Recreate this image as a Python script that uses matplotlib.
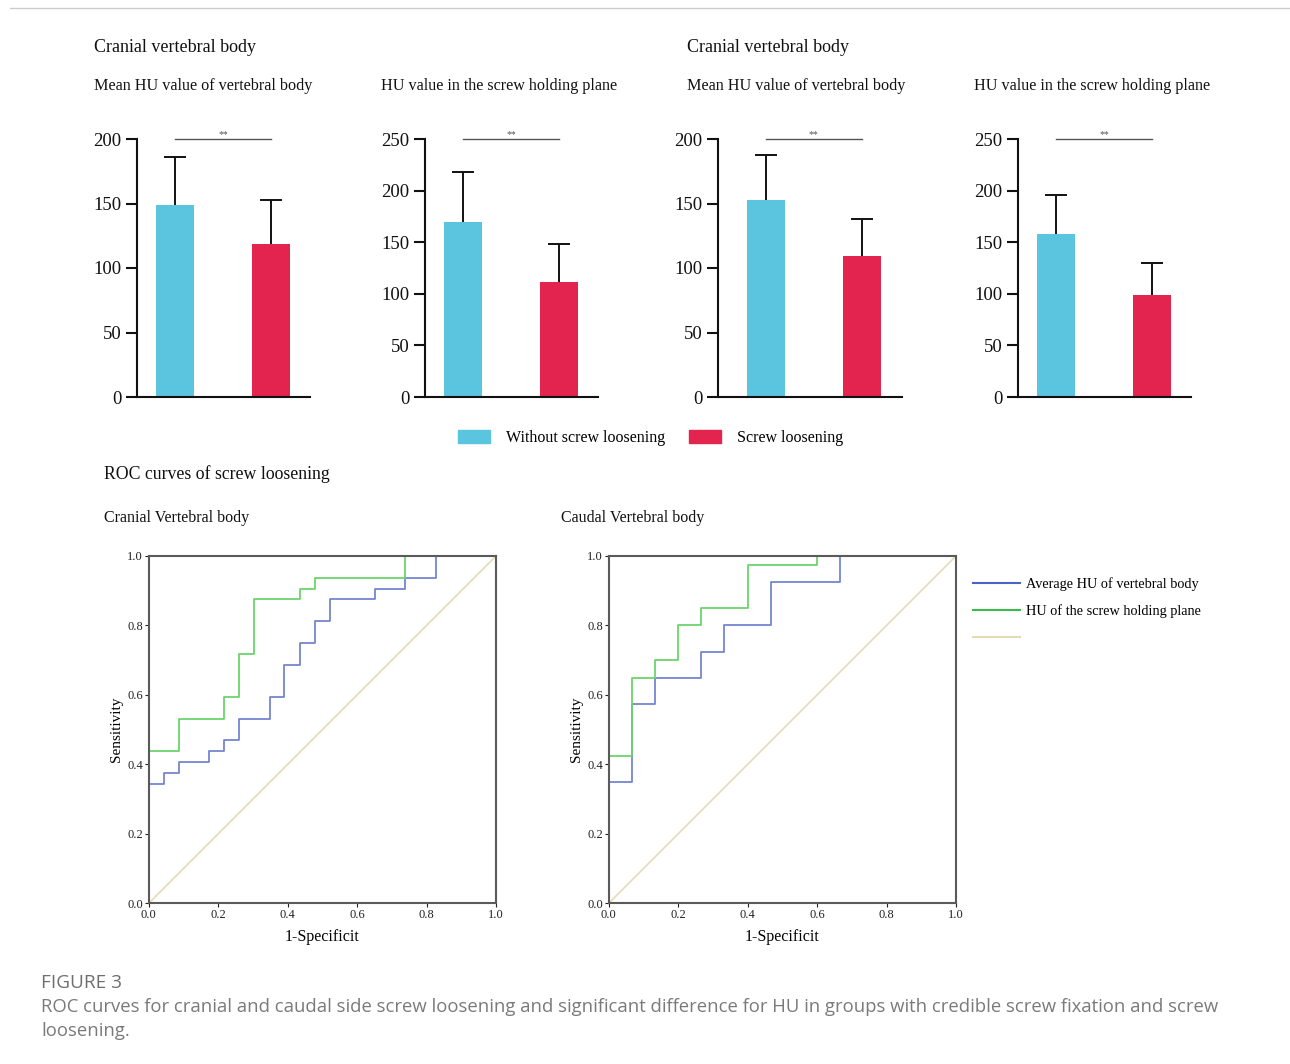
import matplotlib
matplotlib.use("Agg")
import matplotlib.pyplot as plt
from matplotlib.patches import Patch
from matplotlib.lines import Line2D

# ---------------- data ----------------
groups = ["Without screw loosening", "Screw loosening"]
bar_titles = ["Mean HU value of vertebral body", "HU value in the screw holding plane",
              "Mean HU value of vertebral body", "HU value in the screw holding plane"]
bar_means = [[148.8, 118.3], [169.4, 111.2], [152.6, 109.4], [157.8, 98.9]]
bar_sd = [[37.0, 34.4], [48.5, 37.2], [35.2, 28.7], [37.8, 30.5]]
bar_ymax = [200, 250, 200, 250]
bar_ticks = [[0, 50, 100, 150, 200], [0, 50, 100, 150, 200, 250],
             [0, 50, 100, 150, 200], [0, 50, 100, 150, 200, 250]]
sig_label = "**"

# ROC step curves (1-specificity, sensitivity) at the corners
cran_avg_fpr = [0, 0, 0.043, 0.043, 0.087, 0.087, 0.174, 0.174, 0.217, 0.217, 0.261, 0.261,
                0.348, 0.348, 0.391, 0.391, 0.435, 0.435, 0.478, 0.478, 0.522, 0.522,
                0.652, 0.652, 0.739, 0.739, 0.826, 0.826, 1.0]
cran_avg_tpr = [0, 0.344, 0.344, 0.375, 0.375, 0.406, 0.406, 0.4375, 0.4375, 0.469, 0.469, 0.531,
                0.531, 0.594, 0.594, 0.6875, 0.6875, 0.75, 0.75, 0.8125, 0.8125, 0.875,
                0.875, 0.906, 0.906, 0.9375, 0.9375, 1.0, 1.0]
cran_pl_fpr = [0, 0, 0.087, 0.087, 0.217, 0.217, 0.261, 0.261, 0.304, 0.304, 0.435, 0.435,
               0.478, 0.478, 0.739, 0.739, 1.0]
cran_pl_tpr = [0, 0.4375, 0.4375, 0.531, 0.531, 0.594, 0.594, 0.719, 0.719, 0.875, 0.875, 0.906,
               0.906, 0.9375, 0.9375, 1.0, 1.0]
caud_avg_fpr = [0, 0, 0.067, 0.067, 0.133, 0.133, 0.267, 0.267, 0.333, 0.333, 0.467, 0.467,
                0.667, 0.667, 1.0]
caud_avg_tpr = [0, 0.35, 0.35, 0.575, 0.575, 0.65, 0.65, 0.725, 0.725, 0.80, 0.80, 0.925,
                0.925, 1.0, 1.0]
caud_pl_fpr = [0, 0, 0.067, 0.067, 0.133, 0.133, 0.2, 0.2, 0.267, 0.267, 0.4, 0.4, 0.6, 0.6, 1.0]
caud_pl_tpr = [0, 0.425, 0.425, 0.65, 0.65, 0.70, 0.70, 0.80, 0.80, 0.85, 0.85, 0.975, 0.975,
               1.0, 1.0]
roc_ticks = [0.0, 0.2, 0.4, 0.6, 0.8, 1.0]
roc_labels = ["Average HU of vertebral body", "HU of the screw holding plane", ""]

# ---------------- style ----------------
W, H = 1290, 1064
SERIF = ["Liberation Serif", "DejaVu Serif"]
SANS = ["Open Sans", "DejaVu Sans"]
plt.rcParams["font.family"] = SERIF
CYAN = "#5BC4DF"
RED = "#E3244F"
BLUE = "#7585D2"
GREEN = "#6CD46C"
DIAG = "#E3DBB6"

fig = plt.figure(figsize=(W / 100, H / 100), dpi=100)


def ax_px(x0, y0, x1, y1):
    return fig.add_axes([x0 / W, 1 - y1 / H, (x1 - x0) / W, (y1 - y0) / H])


def ftext(x, y, s, **kw):
    fig.text(x / W, 1 - y / H, s, **kw)


# top border line
fig.add_artist(Line2D([10 / W, 1], [1 - 8 / H, 1 - 8 / H], color="#cccccc", lw=1))

# ---------------- bar panels ----------------
bar_boxes = [(137, 139, 310, 397), (425, 139, 598, 397), (718, 139, 902, 397), (1018, 139, 1191, 397)]
bar_xlims = [(-0.40, 1.41), (-0.40, 1.41), (-0.50, 1.42), (-0.40, 1.41)]
title_x = [94, 381, 687, 974]
for i in range(4):
    ax = ax_px(*bar_boxes[i])
    xs = [0, 1]
    ax.bar(xs, bar_means[i], width=0.40, color=[CYAN, RED], zorder=2)
    _, caps, _ = ax.errorbar(xs, bar_means[i], yerr=[[0, 0], bar_sd[i]], fmt="none",
                             ecolor="#111111", elinewidth=1.4, capsize=8, capthick=1.4,
                             zorder=1, clip_on=False)
    caps[0].set_visible(False)
    ax.set_ylim(0, bar_ymax[i])
    ax.set_xlim(*bar_xlims[i])
    ax.set_yticks(bar_ticks[i])
    ax.set_xticks([])
    for s in ["top", "right"]:
        ax.spines[s].set_visible(False)
    for s in ["left", "bottom"]:
        ax.spines[s].set_linewidth(1.5)
        ax.spines[s].set_color("#111111")
    ax.tick_params(axis="y", length=8, width=1.5, labelsize=13.5, pad=3, colors="#111111")
    ax.plot(xs, [bar_ymax[i], bar_ymax[i]], color="#555555", lw=1.0, clip_on=False)
    ax.text(0.5, bar_ymax[i], sig_label, ha="center", va="bottom", fontsize=7, color="#555555")
    ftext(title_x[i], 86, bar_titles[i], fontsize=11.6, va="center", color="#111111")

ftext(94, 48, "Cranial vertebral body", fontsize=13, va="center", color="#111111")
ftext(687, 48, "Cranial vertebral body", fontsize=13, va="center", color="#111111")

fig.legend(handles=[Patch(color=CYAN), Patch(color=RED)], labels=groups, ncol=2,
           loc="center", bbox_to_anchor=(651 / W, 1 - 438 / H), frameon=False,
           fontsize=11.5, handlelength=2.0, handleheight=0.9, columnspacing=1.5, handletextpad=1.0)

# ---------------- ROC panels ----------------
ftext(104, 474, "ROC curves of screw loosening", fontsize=12.8, va="center", color="#111111")
ftext(104, 518, "Cranial Vertebral body", fontsize=11.5, va="center", color="#111111")
ftext(561, 518, "Caudal Vertebral body", fontsize=11.5, va="center", color="#111111")

roc_boxes = [(148.7, 556, 496, 903.3), (608.7, 556, 956, 903.3)]
roc_data = [(cran_avg_fpr, cran_avg_tpr, cran_pl_fpr, cran_pl_tpr),
            (caud_avg_fpr, caud_avg_tpr, caud_pl_fpr, caud_pl_tpr)]
for i in range(2):
    ax = ax_px(*roc_boxes[i])
    af, at, pf, pt = roc_data[i]
    ax.plot([0, 1], [0, 1], color=DIAG, lw=1.2)
    ax.plot(af, at, color=BLUE, lw=1.3)
    ax.plot(pf, pt, color=GREEN, lw=1.3)
    ax.set_xlim(0, 1)
    ax.set_ylim(0, 1)
    ax.set_xticks(roc_ticks)
    ax.set_yticks(roc_ticks)
    ax.set_xticklabels([f"{t:.1f}" for t in roc_ticks])
    ax.set_yticklabels([f"{t:.1f}" for t in roc_ticks])
    for s in ax.spines.values():
        s.set_color("#5a5a5a")
        s.set_linewidth(1.5)
    ax.tick_params(length=3, width=0.8, labelsize=9, pad=1, colors="#222222")
    ax.set_ylabel("Sensitivity", fontsize=11, labelpad=3)
    ax.set_xlabel("1-Specificit", fontsize=11.5, labelpad=6)

leg_handles = [Line2D([], [], color="#4A63C4", lw=1.5), Line2D([], [], color="#3DBB4A", lw=1.5),
               Line2D([], [], color=DIAG, lw=1.5)]
fig.legend(handles=leg_handles, labels=roc_labels, loc="upper left",
           bbox_to_anchor=(960 / W, 1 - 564 / H), frameon=False, fontsize=10.3,
           handlelength=3.3, labelspacing=0.95, handletextpad=0.4)

# ---------------- caption ----------------
ftext(41, 983, "FIGURE 3", family=SANS, fontsize=13.7, color="#6f6f6f", va="center")
ftext(41, 1007, "ROC curves for cranial and caudal side screw loosening and significant difference "
                "for HU in groups with credible screw fixation and screw",
      family=SANS, fontsize=13.3, color="#7a7a7a", va="center")
ftext(41, 1031, "loosening.", family=SANS, fontsize=13.3, color="#7a7a7a", va="center")

fig.savefig("out.png", dpi=100)
